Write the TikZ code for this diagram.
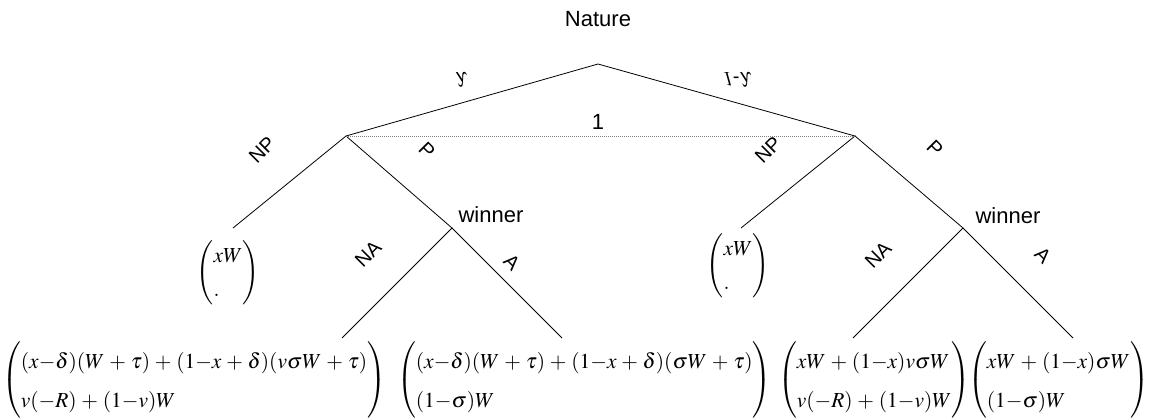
\documentclass[tikz,border=0pt]{standalone}
\usepackage{graphicx}
\usepackage{mathptmx}
\usepackage[no-math]{fontspec}
\setmainfont{Liberation Sans}
\usetikzlibrary{positioning}
\newcommand{\payvec}[3][1.55]{$\medmuskip=4mu\renewcommand{\arraystretch}{#1}\left(\begin{array}{@{}l@{}}#2\\#3\end{array}\right)$}
\newcommand{\vflip}[1]{\scalebox{1}[-1]{#1}}
\newcommand{\mi}{\mathord{-}}

\begin{document}
\begin{tikzpicture}[x=1pt,y=-1pt,
    branch/.style={line width=0.8pt},
    infoset/.style={gray,line width=0.8pt,dash pattern=on 1pt off 1pt},
    lab/.style={font=\fontsize{20}{24}\selectfont,inner sep=1pt},
    player/.style={font=\fontsize{22}{26}\selectfont,inner sep=1pt},
    payoff/.style={font=\fontsize{21.4}{25}\selectfont,inner sep=0pt,anchor=west}]
  \useasboundingbox (0,0) rectangle (1157,420);
  % decision points and leaves
  \coordinate (root) at (598,64);
  \coordinate (pl) at (346,136);
  \coordinate (pr) at (855,136);
  \coordinate (wl) at (452,228);
  \coordinate (wr) at (963,228);
  \coordinate (npl) at (233,228);
  \coordinate (npr) at (741,228);
  \coordinate (nal) at (342,338);
  \coordinate (al) at (562,338);
  \coordinate (nar) at (853,338);
  \coordinate (ar) at (1073,338);
  \draw[branch] (npl) -- (pl) -- (root) -- (pr) -- (npr);
  \draw[branch] (pl) -- (wl) -- (nal);
  \draw[branch] (wl) -- (al);
  \draw[branch] (pr) -- (wr) -- (nar);
  \draw[branch] (wr) -- (ar);
  \draw[infoset] (pl) -- (pr);
  % players and moves
  \node[player] (nature) at (598,19) {Nature};
  \node[player] (one) at (598,122) {1};
  \node[player] (winl) at (491,215) {winner};
  \node[player] (winr) at (1008,216) {winner};
  \node[lab] (lam) at (462,80) {\vflip{$\lambda$}};
  \node[lab] (lamc) at (738,80) {\vflip{$\mathit{1}$-$\lambda$}};
  \node[lab,rotate=45] (mnpl) at (262,150) {NP};
  \node[lab,rotate=-45] (mpl) at (427,150) {P};
  \node[lab,rotate=45] (mnpr) at (768,150) {NP};
  \node[lab,rotate=-45] (mpr) at (935,148) {P};
  \node[lab,rotate=45] (mnal) at (368,254) {NA};
  \node[lab,rotate=-45] (mal) at (512,262) {A};
  \node[lab,rotate=45] (mnar) at (878,255) {NA};
  \node[lab,rotate=-45] (mar) at (1043,255) {A};
  % payoffs
  \node[payoff,anchor=center] (xwl) at (228,273) {\payvec[1.35]{xW}{.}};
  \node[payoff,anchor=center] (xwr) at (738,266) {\payvec[1.35]{xW}{.}};
  \node[payoff] (pay1) at (2,380)
    {\payvec{(x\mi\delta)(W+\tau)+(1\mi x+\delta)(v\sigma W+\tau)}{v(-R)+(1\mi v)W}};
  \node[payoff] (pay2) at (397,380)
    {\payvec{(x\mi\delta)(W+\tau)+(1\mi x+\delta)(\sigma W+\tau)}{(1\mi\sigma)W}};
  \node[payoff] (pay3) at (778,380)
    {\payvec{xW+(1\mi x)v\sigma W}{v(-R)+(1\mi v)W}};
  \node[payoff] (pay4) at (968,380)
    {\payvec{xW+(1\mi x)\sigma W}{(1\mi\sigma)W}};
\end{tikzpicture}
\end{document}
